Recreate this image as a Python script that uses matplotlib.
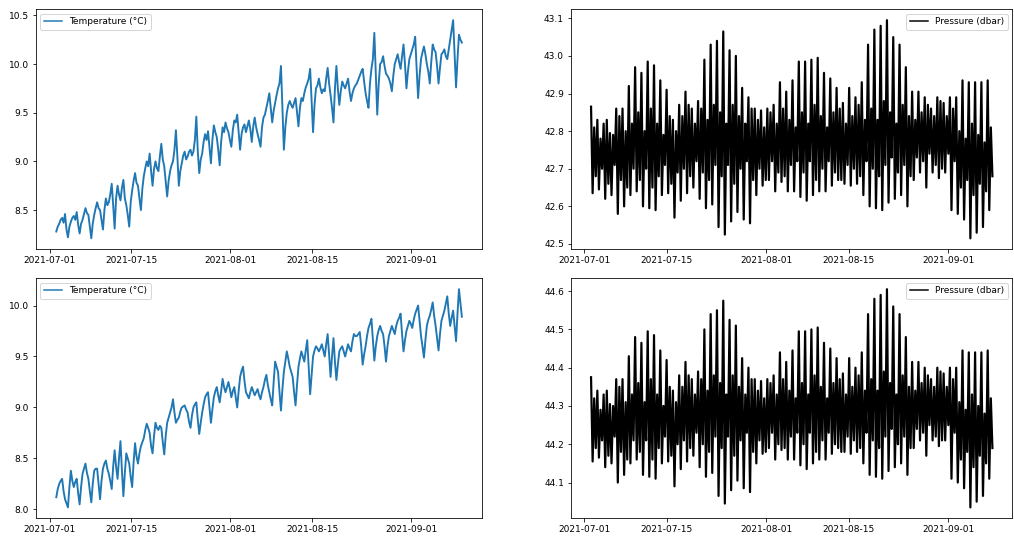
import numpy as np
import pandas as pd
import matplotlib
matplotlib.use("Agg")
import matplotlib.pyplot as plt
import matplotlib.dates as mdates

# temperature, every 12 h from 2021-07-02 03:36 ...
temp_upper = [
    8.28, 8.36, 8.42, 8.46, 8.22, 8.38, 8.44, 8.48, 8.26, 8.40,
    8.52, 8.45, 8.21, 8.45, 8.58, 8.50, 8.30, 8.62, 8.58, 8.77,
    8.31, 8.75, 8.60, 8.81, 8.55, 8.33, 8.70, 8.88, 8.75, 8.50,
    8.85, 9.00, 9.08, 8.75, 9.00, 8.90, 9.18, 8.95, 8.64, 8.90,
    9.00, 9.32, 8.75, 8.98, 9.10, 9.05, 9.12, 9.10, 9.46, 8.88,
    9.08, 9.28, 9.31, 8.98, 9.37, 9.25, 8.96, 9.35, 9.40, 9.30,
    9.15, 9.42, 9.48, 9.12, 9.35, 9.30, 9.42, 9.20, 9.45, 9.28,
    9.15, 9.45, 9.55, 9.70, 9.40, 9.60, 9.75, 9.98, 9.12, 9.50,
    9.62, 9.55, 9.65, 9.36, 9.65, 9.70, 9.80, 9.95, 9.30, 9.75,
    9.85, 9.70, 9.72, 9.96, 9.68, 9.40, 9.98, 9.58, 9.82, 9.75,
    9.85, 9.62, 9.75, 9.80, 9.88, 9.95, 9.70, 9.55, 9.95, 10.32,
    9.48, 10.00, 10.08, 9.90, 9.85, 9.72, 10.00, 10.10, 9.95, 10.20,
    9.75, 10.05, 10.15, 10.28, 9.65, 10.05, 10.18, 10.00, 9.80, 10.20,
    10.12, 9.80, 10.10, 10.15, 10.05, 10.25, 10.45, 9.76, 10.30, 10.22,
]
# ... and the readings 6 h after each of those
temp_upper_mid = [
    8.33, 8.40, 8.37, 8.30, 8.33, 8.42, 8.40, 8.35, 8.36, 8.46,
    8.47, 8.33, 8.36, 8.52, 8.52, 8.40, 8.50, 8.55, 8.66, 8.55,
    8.62, 8.66, 8.73, 8.62, 8.45, 8.58, 8.80, 8.78, 8.62, 8.72,
    8.93, 8.95, 8.90, 8.92, 8.93, 9.05, 9.02, 8.80, 8.80, 8.96,
    9.12, 9.05, 8.90, 9.06, 9.02, 9.10, 9.06, 9.22, 9.10, 9.02,
    9.20, 9.22, 9.15, 9.22, 9.30, 9.12, 9.20, 9.30, 9.34, 9.22,
    9.32, 9.40, 9.30, 9.28, 9.38, 9.36, 9.33, 9.36, 9.35, 9.22,
    9.35, 9.48, 9.62, 9.55, 9.52, 9.68, 9.80, 9.55, 9.35, 9.58,
    9.58, 9.60, 9.50, 9.55, 9.62, 9.76, 9.85, 9.62, 9.58, 9.78,
    9.76, 9.74, 9.85, 9.80, 9.55, 9.75, 9.75, 9.72, 9.78, 9.80,
    9.72, 9.70, 9.78, 9.84, 9.92, 9.82, 9.62, 9.80, 10.05, 9.90,
    9.80, 10.02, 9.98, 9.88, 9.80, 9.88, 10.05, 10.02, 10.08, 10.00,
    9.92, 10.10, 10.20, 9.95, 9.88, 10.12, 10.10, 9.92, 10.02, 10.15,
    9.98, 9.96, 10.12, 10.08, 10.15, 10.35, 10.10, 10.05, 10.25,
]
temp_lower = [
    8.12, 8.25, 8.30, 8.10, 8.02, 8.38, 8.22, 8.30, 8.05, 8.35,
    8.45, 8.30, 8.07, 8.38, 8.40, 8.10, 8.40, 8.48, 8.35, 8.20,
    8.58, 8.30, 8.67, 8.13, 8.55, 8.45, 8.22, 8.65, 8.45, 8.62,
    8.70, 8.84, 8.75, 8.55, 8.85, 8.78, 8.80, 8.54, 8.85, 8.95,
    9.08, 8.85, 8.90, 9.00, 9.02, 8.95, 8.80, 9.00, 9.05, 8.74,
    8.95, 9.10, 9.15, 8.85, 9.10, 9.20, 9.05, 9.28, 9.15, 9.25,
    9.10, 9.20, 9.00, 9.30, 9.40, 9.15, 9.09, 9.20, 9.12, 9.18,
    9.08, 9.20, 9.32, 9.15, 9.02, 9.45, 9.35, 8.97, 9.35, 9.55,
    9.40, 9.30, 9.02, 9.40, 9.55, 9.45, 9.66, 9.13, 9.50, 9.60,
    9.55, 9.62, 9.50, 9.72, 9.30, 9.68, 9.27, 9.55, 9.60, 9.50,
    9.62, 9.55, 9.72, 9.70, 9.74, 9.42, 9.60, 9.78, 9.87, 9.46,
    9.70, 9.80, 9.72, 9.45, 9.70, 9.80, 9.72, 9.85, 9.92, 9.55,
    9.75, 9.85, 9.78, 9.92, 10.00, 9.70, 9.49, 9.80, 9.90, 10.03,
    9.80, 9.56, 9.85, 9.95, 10.09, 9.80, 9.95, 9.65, 10.16, 9.89,
]
temp_lower_mid = [
    8.20, 8.28, 8.18, 8.06, 8.22, 8.28, 8.27, 8.16, 8.22, 8.40,
    8.36, 8.18, 8.25, 8.40, 8.25, 8.28, 8.45, 8.40, 8.28, 8.42,
    8.42, 8.50, 8.38, 8.36, 8.50, 8.32, 8.46, 8.52, 8.55, 8.66,
    8.78, 8.80, 8.62, 8.72, 8.80, 8.82, 8.66, 8.72, 8.90, 9.00,
    8.95, 8.88, 8.96, 9.01, 8.98, 8.86, 8.92, 9.03, 8.88, 8.85,
    9.03, 9.13, 9.00, 8.98, 9.16, 9.12, 9.16, 9.20, 9.20, 9.18,
    9.16, 9.10, 9.16, 9.36, 9.26, 9.12, 9.15, 9.16, 9.15, 9.12,
    9.15, 9.27, 9.22, 9.08, 9.25, 9.40, 9.15, 9.18, 9.45, 9.48,
    9.35, 9.15, 9.22, 9.48, 9.50, 9.56, 9.40, 9.32, 9.56, 9.58,
    9.58, 9.56, 9.62, 9.52, 9.50, 9.45, 9.42, 9.58, 9.55, 9.56,
    9.58, 9.65, 9.70, 9.72, 9.60, 9.52, 9.70, 9.82, 9.66, 9.60,
    9.76, 9.75, 9.60, 9.60, 9.75, 9.76, 9.80, 9.88, 9.72, 9.66,
    9.80, 9.82, 9.86, 9.96, 9.85, 9.60, 9.66, 9.86, 9.96, 9.90,
    9.68, 9.72, 9.90, 10.02, 9.92, 9.88, 9.80, 9.92, 10.02,
]

# pressure, one tidal cycle = high, low, lesser high, lesser low
pres_upper_hi = [
    42.865, 42.83, 42.82, 42.795, 42.86, 42.86, 42.92, 42.97, 42.955, 42.985,
    42.975, 42.935, 42.91, 42.83, 42.87, 42.905, 42.86, 42.88, 42.99, 43.03,
    43.04, 43.065, 43.015, 43.0, 42.915, 42.89, 42.86, 42.855, 42.86, 42.87,
    42.93, 42.905, 42.935, 42.985, 42.985, 42.99, 42.995, 42.955, 42.94, 42.915,
    42.875, 42.915, 42.89, 42.93, 43.03, 43.07, 43.08, 43.095, 43.05, 43.03,
    42.97, 42.905, 42.905, 42.89, 42.86, 42.89, 42.875, 42.89, 42.89, 42.935,
    42.93, 42.93, 42.93, 42.935,
]
pres_upper_lo = [
    42.635, 42.645, 42.62, 42.63, 42.58, 42.60, 42.63, 42.64, 42.60, 42.595,
    42.59, 42.63, 42.635, 42.57, 42.615, 42.635, 42.65, 42.62, 42.595, 42.605,
    42.545, 42.525, 42.56, 42.585, 42.565, 42.555, 42.63, 42.655, 42.67, 42.64,
    42.665, 42.64, 42.64, 42.625, 42.615, 42.63, 42.64, 42.64, 42.655, 42.67,
    42.66, 42.655, 42.66, 42.63, 42.60, 42.595, 42.59, 42.61, 42.62, 42.63,
    42.60, 42.67, 42.69, 42.65, 42.69, 42.675, 42.69, 42.59, 42.58, 42.565,
    42.515, 42.53, 42.545, 42.59,
]
pres_upper_lh = [
    42.81, 42.78, 42.83, 42.79, 42.84, 42.80, 42.82,
    42.85, 42.80, 42.86, 42.82, 42.79, 42.84, 42.80,
    42.84, 42.87, 42.82, 42.86, 42.83, 42.87,
    42.85, 42.82, 42.87, 42.84, 42.82, 42.86,
    42.83, 42.81, 42.85, 42.82, 42.86, 42.83, 42.81,
    42.85, 42.82, 42.87, 42.84, 42.81, 42.85, 42.86, 42.82, 42.84, 42.87, 42.83,
    42.86, 42.83, 42.88, 42.85, 42.82, 42.87, 42.84, 42.83,
    42.85, 42.87, 42.84, 42.88, 42.84, 42.86,
    42.80, 42.78, 42.82, 42.79, 42.77, 42.81,
]
pres_upper_hl = [
    42.68, 42.70, 42.66, 42.71, 42.67, 42.65, 42.70,
    42.67, 42.70, 42.65, 42.68, 42.71, 42.66, 42.69,
    42.70, 42.68, 42.72, 42.69, 42.67, 42.71,
    42.68, 42.71, 42.66, 42.70, 42.72, 42.67,
    42.70, 42.67, 42.72, 42.69, 42.68, 42.71, 42.72,
    42.69, 42.72, 42.67, 42.70, 42.72, 42.69, 42.67, 42.71, 42.70, 42.68, 42.72,
    42.70, 42.68, 42.71, 42.73, 42.69, 42.71, 42.68, 42.73,
    42.72, 42.74, 42.71, 42.70, 42.74, 42.72,
    42.65, 42.67, 42.63, 42.66, 42.64, 42.68,
]

pres_lower_hi = [
    44.375, 44.34, 44.33, 44.305, 44.37, 44.37, 44.43, 44.48, 44.465, 44.495,
    44.485, 44.445, 44.42, 44.34, 44.38, 44.415, 44.37, 44.39, 44.50, 44.54,
    44.55, 44.575, 44.525, 44.51, 44.425, 44.40, 44.37, 44.365, 44.37, 44.38,
    44.44, 44.415, 44.445, 44.495, 44.495, 44.50, 44.505, 44.465, 44.45, 44.425,
    44.385, 44.425, 44.40, 44.44, 44.54, 44.58, 44.59, 44.605, 44.56, 44.54,
    44.48, 44.415, 44.415, 44.40, 44.37, 44.40, 44.385, 44.40, 44.40, 44.445,
    44.44, 44.44, 44.44, 44.445,
]
pres_lower_lo = [
    44.155, 44.165, 44.14, 44.15, 44.10, 44.12, 44.15, 44.16, 44.12, 44.115,
    44.11, 44.15, 44.155, 44.09, 44.135, 44.155, 44.17, 44.14, 44.115, 44.125,
    44.065, 44.045, 44.08, 44.105, 44.085, 44.075, 44.15, 44.175, 44.19, 44.16,
    44.185, 44.16, 44.16, 44.145, 44.135, 44.15, 44.16, 44.16, 44.175, 44.19,
    44.18, 44.175, 44.18, 44.15, 44.12, 44.115, 44.11, 44.13, 44.14, 44.15,
    44.12, 44.19, 44.21, 44.17, 44.21, 44.195, 44.21, 44.11, 44.10, 44.085,
    44.035, 44.05, 44.065, 44.11,
]
pres_lower_lh = [
    44.32, 44.29, 44.34, 44.30, 44.35, 44.31, 44.33,
    44.36, 44.31, 44.37, 44.33, 44.30, 44.35, 44.31,
    44.35, 44.38, 44.33, 44.37, 44.34, 44.38,
    44.36, 44.33, 44.38, 44.35, 44.33, 44.37,
    44.34, 44.32, 44.36, 44.33, 44.37, 44.34, 44.32,
    44.36, 44.33, 44.38, 44.35, 44.32, 44.36, 44.37, 44.33, 44.35, 44.38, 44.34,
    44.37, 44.34, 44.39, 44.36, 44.33, 44.38, 44.35, 44.34,
    44.36, 44.38, 44.35, 44.39, 44.35, 44.37,
    44.31, 44.29, 44.33, 44.30, 44.28, 44.32,
]
pres_lower_hl = [
    44.19, 44.21, 44.17, 44.22, 44.18, 44.16, 44.21,
    44.18, 44.21, 44.16, 44.19, 44.22, 44.17, 44.20,
    44.21, 44.19, 44.23, 44.20, 44.18, 44.22,
    44.19, 44.22, 44.17, 44.21, 44.23, 44.18,
    44.21, 44.18, 44.23, 44.20, 44.19, 44.22, 44.23,
    44.20, 44.23, 44.18, 44.21, 44.23, 44.20, 44.18, 44.22, 44.21, 44.19, 44.23,
    44.21, 44.19, 44.22, 44.24, 44.20, 44.22, 44.19, 44.24,
    44.23, 44.25, 44.22, 44.21, 44.25, 44.23,
    44.16, 44.18, 44.14, 44.17, 44.15, 44.19,
]

start = "2021-07-02 03:36"


def interleave(a, b):
    out = np.empty(len(a) + len(b))
    out[0::2] = a
    out[1::2] = b
    return out


def tide(hi, lo, lh, hl):
    return np.column_stack([hi, lo, lh, hl]).ravel()


t_up = interleave(temp_upper, temp_upper_mid)
t_lo = interleave(temp_lower, temp_lower_mid)
p_up = tide(pres_upper_hi, pres_upper_lo, pres_upper_lh, pres_upper_hl)
p_lo = tide(pres_lower_hi, pres_lower_lo, pres_lower_lh, pres_lower_hl)
t_time = pd.date_range(start, periods=len(t_up), freq="6h")
p_time = pd.date_range(start, periods=len(p_up), freq="386min")

plt.rcParams["font.size"] = 9

fig = plt.figure(figsize=(1014 / 72, 536 / 72), dpi=72)
ax1 = fig.add_axes([0.0355, 0.535, 0.440, 0.4477])
ax2 = fig.add_axes([0.5631, 0.535, 0.4354, 0.4477])
ax3 = fig.add_axes([0.0355, 0.033, 0.440, 0.4478])
ax4 = fig.add_axes([0.5631, 0.033, 0.4354, 0.4478])

ax1.plot(t_time, t_up, color="tab:blue", lw=1.9, label="Temperature (°C)")
ax3.plot(t_time, t_lo, color="tab:blue", lw=1.9, label="Temperature (°C)")
ax2.plot(p_time, p_up, color="black", lw=2.2, label="Pressure (dbar)")
ax4.plot(p_time, p_lo, color="black", lw=2.2, label="Pressure (dbar)")

for ax in [ax1, ax3]:
    ax.legend(loc="upper left", fontsize=9)
for ax in [ax2, ax4]:
    ax.legend(loc="upper right", fontsize=9)

for ax in [ax1, ax2, ax3, ax4]:
    for line in ax.get_legend().get_lines():
        line.set_linewidth(1.5)
    ax.xaxis.set_major_locator(mdates.DayLocator(bymonthday=[1, 15]))
    ax.xaxis.set_major_formatter(mdates.DateFormatter("%Y-%m-%d"))
    ax.tick_params(labelsize=9)

fig.savefig("out.png", dpi=72)
